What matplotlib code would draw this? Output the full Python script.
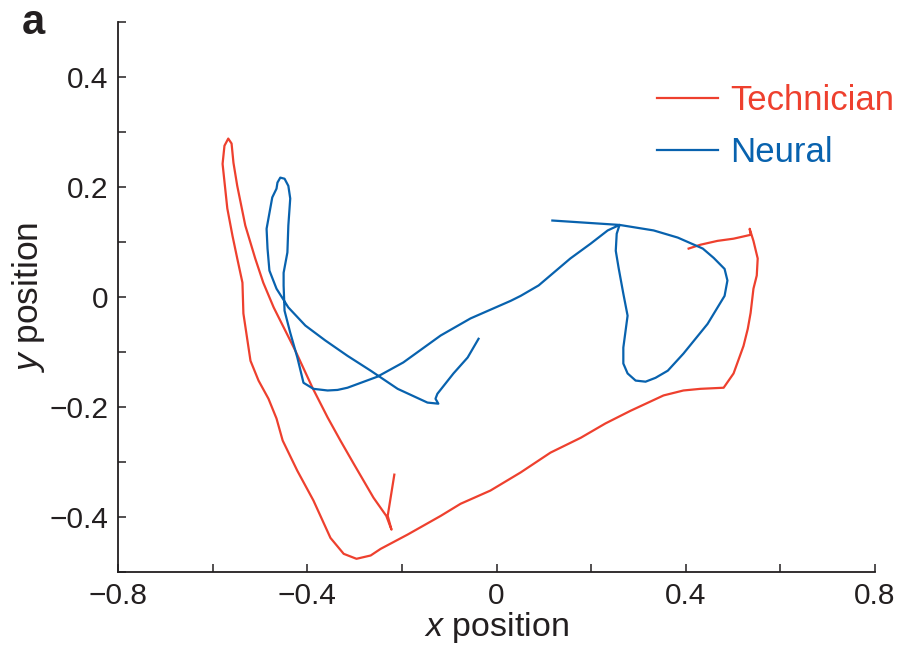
import matplotlib
matplotlib.use('Agg')
import matplotlib.pyplot as plt
from matplotlib.lines import Line2D
from matplotlib.ticker import MultipleLocator

plt.rcParams['font.family'] = ['Liberation Sans', 'DejaVu Sans']
plt.rcParams['mathtext.fontset'] = 'custom'
plt.rcParams['mathtext.rm'] = 'Liberation Sans'
plt.rcParams['mathtext.it'] = 'Liberation Sans:italic'

RED = '#EE402E'
BLUE = '#0862AE'
INK = '#231F20'

# Technician trajectory
tech_x = [0.406, 0.431, 0.467, 0.501, 0.537, 0.535, 0.543, 0.552, 0.550, 0.543,
          0.537, 0.531, 0.522, 0.501, 0.480, 0.431, 0.395, 0.353, 0.283, 0.230,
          0.178, 0.114, 0.051, -0.013, -0.076, -0.118, -0.188, -0.245, -0.266, -0.296,
          -0.323, -0.351, -0.387, -0.421, -0.452, -0.465, -0.482, -0.503, -0.520, -0.535,
          -0.537, -0.548, -0.558, -0.569, -0.579, -0.575, -0.567, -0.560, -0.556, -0.548,
          -0.531, -0.510, -0.493, -0.471, -0.425, -0.389, -0.357, -0.330, -0.302, -0.260,
          -0.233, -0.222, -0.230, -0.216]
tech_y = [0.088, 0.095, 0.102, 0.106, 0.113, 0.124, 0.102, 0.070, 0.039, 0.015,
          -0.029, -0.058, -0.089, -0.139, -0.165, -0.167, -0.170, -0.179, -0.207, -0.230,
          -0.256, -0.283, -0.319, -0.352, -0.376, -0.398, -0.432, -0.458, -0.470, -0.476,
          -0.467, -0.438, -0.370, -0.316, -0.261, -0.221, -0.185, -0.152, -0.116, -0.030,
          0.026, 0.070, 0.111, 0.161, 0.242, 0.275, 0.288, 0.279, 0.244, 0.202,
          0.130, 0.070, 0.026, -0.019, -0.098, -0.165, -0.219, -0.261, -0.303, -0.365,
          -0.398, -0.423, -0.398, -0.323]

# Neural decoder trajectory
neural_x = [0.118, 0.260, 0.332, 0.383, 0.436, 0.459, 0.482, 0.488, 0.482, 0.446,
            0.395, 0.362, 0.336, 0.315, 0.294, 0.277, 0.268, 0.268, 0.277, 0.268,
            0.258, 0.252, 0.254, 0.260, 0.235, 0.199, 0.156, 0.089, 0.051, 0.030,
            -0.055, -0.118, -0.197, -0.252, -0.315, -0.336, -0.357, -0.387, -0.408, -0.421,
            -0.436, -0.448, -0.450, -0.450, -0.442, -0.440, -0.436, -0.440, -0.448, -0.457,
            -0.463, -0.465, -0.474, -0.486, -0.484, -0.480, -0.465, -0.440, -0.404, -0.362,
            -0.315, -0.266, -0.209, -0.146, -0.123, -0.129, -0.125, -0.091, -0.061, -0.038]
neural_y = [0.139, 0.131, 0.121, 0.108, 0.088, 0.071, 0.051, 0.030, 0.002, -0.049,
            -0.103, -0.134, -0.147, -0.154, -0.152, -0.139, -0.121, -0.092, -0.034, 0.006,
            0.053, 0.084, 0.115, 0.131, 0.121, 0.097, 0.070, 0.021, 0.002, -0.007,
            -0.039, -0.070, -0.119, -0.145, -0.165, -0.169, -0.170, -0.167, -0.156, -0.110,
            -0.065, -0.025, 0.021, 0.044, 0.081, 0.130, 0.179, 0.202, 0.215, 0.217,
            0.208, 0.197, 0.181, 0.124, 0.088, 0.048, 0.015, -0.019, -0.052, -0.079,
            -0.107, -0.134, -0.167, -0.192, -0.194, -0.185, -0.176, -0.139, -0.110, -0.076]

xticks = [-0.8, -0.4, 0, 0.4, 0.8]
xtick_labels = ['\u22120.8', '\u22120.4', '0', '0.4', '0.8']
yticks = [-0.4, -0.2, 0, 0.2, 0.4]
ytick_labels = ['\u22120.4', '\u22120.2', '0', '0.2', '0.4']

fig = plt.figure(figsize=(9.05, 6.48), dpi=100)
ax = fig.add_axes([0.1304, 0.1173, 0.8365, 0.8488])

ax.plot(tech_x, tech_y, color=RED, linewidth=1.6, solid_joinstyle='round')
ax.plot(neural_x, neural_y, color=BLUE, linewidth=1.6, solid_joinstyle='round')

ax.set_xlim(-0.8, 0.8)
ax.set_ylim(-0.5, 0.5)
for side in ['top', 'right']:
    ax.spines[side].set_visible(False)
for side in ['left', 'bottom']:
    ax.spines[side].set_linewidth(1.3)
    ax.spines[side].set_color(INK)

ax.set_xticks(xticks)
ax.set_xticklabels(xtick_labels)
ax.set_yticks(yticks)
ax.set_yticklabels(ytick_labels)
ax.xaxis.set_minor_locator(MultipleLocator(0.2))
ax.yaxis.set_minor_locator(MultipleLocator(0.1))
ax.tick_params(which='both', direction='in', length=6, width=1.1, color=INK)
ax.tick_params(axis='both', which='major', labelsize=21.5, labelcolor=INK)
ax.tick_params(axis='y', which='major', pad=7)
ax.tick_params(axis='x', which='major', pad=7)

ax.set_xlabel('$x$ position', fontsize=24.5, color=INK, labelpad=0)
ax.set_ylabel('$y$ position', fontsize=25.5, color=INK, labelpad=2)

handles = [Line2D([], [], color=RED, linewidth=1.6),
           Line2D([], [], color=BLUE, linewidth=1.6)]
fig.legend(handles, ['Technician', 'Neural'], loc='upper left',
           bbox_to_anchor=(657 / 905, 1 - 84 / 648), frameon=False,
           fontsize=25, labelcolor='linecolor', handlelength=1.75,
           handletextpad=0.35, labelspacing=0.56, borderpad=0, borderaxespad=0)

fig.text(22 / 905, 1 - 34 / 648, 'a', fontsize=30, fontweight='bold', color=INK)

fig.savefig('out.png', dpi=100)
